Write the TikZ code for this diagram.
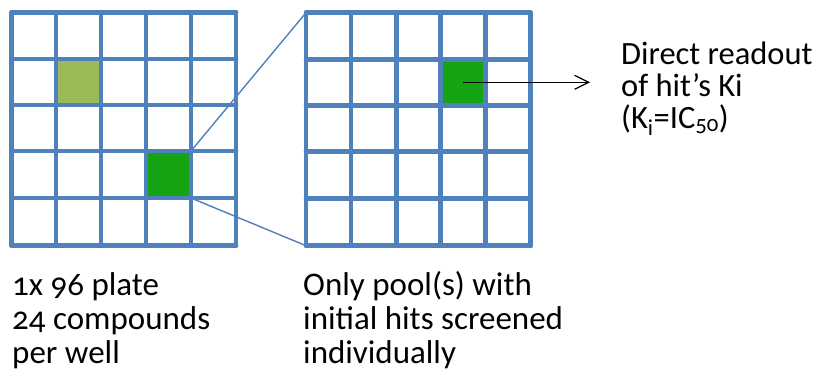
\documentclass[tikz,border=0pt]{standalone}
\usepackage{fontspec}
\setmainfont[Numbers=OldStyle]{Carlito}
\usetikzlibrary{arrows.meta}
\definecolor{gridblue}{HTML}{4F81BD}
\definecolor{poolgreen}{HTML}{9BBB59}
\definecolor{hitgreen}{HTML}{14A414}
\tikzset{
  gridline/.style={draw=gridblue, line width=4.6pt, line cap=round, line join=round},
  zoomline/.style={draw=gridblue, line width=1.4pt},
  readout/.style={draw=black, line width=1.2pt, -{Straight Barb[length=14pt,width=14pt,line width=1.2pt]}},
  % anchor base = baseline of the last line of a multi-line node
  caption/.style={inner sep=0pt, anchor=base west, align=left, text=black},
  topcaption/.style={caption, font=\fontsize{32.5}{31.6}\selectfont},
  lowcaption/.style={caption, font=\fontsize{33}{34}\selectfont}
}
\begin{document}
\begin{tikzpicture}[x=1pt,y=-1pt]
\useasboundingbox (0,0) rectangle (821,375);
\fill[white] (0,0) rectangle (821,375);
% highlighted wells
\fill[poolgreen] (56,59) rectangle (101,105);
\fill[hitgreen] (146,151) rectangle (191,198);
\fill[hitgreen] (440.7,59.3) rectangle (485.7,105.3);
% 96-well plate (pooled) and follow-up plate
\foreach \x in {11.7,56,101,146,191,236}
  \draw[gridline] (\x,12.3) -- (\x,245.7);
\foreach \y in {12.3,59,105,151,198,245.7}
  \draw[gridline] (11.7,\y) -- (236,\y);
\foreach \x in {306,351,396.3,440.7,485.7,530.7}
  \draw[gridline] (\x,12.7) -- (\x,245.7);
\foreach \y in {12.7,59.3,105.3,151.7,198.3,245.7}
  \draw[gridline] (306,\y) -- (530.7,\y);
% corners for the zoom lines
\coordinate (hitNE) at (191,151);
\coordinate (hitSE) at (191,198);
\coordinate (plateNW) at (306,12.7);
\coordinate (plateSW) at (306,245.7);
\draw[zoomline] (hitNE) -- (plateNW);
\draw[zoomline] (hitSE) -- (plateSW);
% readout arrow
\coordinate (hitC) at (463.2,82.3);
\coordinate (arrowEnd) at (590,82.3);
\draw[readout] (hitC) -- (arrowEnd);
% captions
\node[topcaption] (readoutText) at (621,128) {Direct readout\\of hit’s Ki\\(K\textsubscript{i}=IC\textsubscript{50})};
\node[lowcaption] (plateText) at (12,363) {1x 96 plate\\24 compounds\\per well};
\node[lowcaption] (poolText) at (303,363) {Only pool(s) with\\initial hits screened\\individually};
\end{tikzpicture}
\end{document}
